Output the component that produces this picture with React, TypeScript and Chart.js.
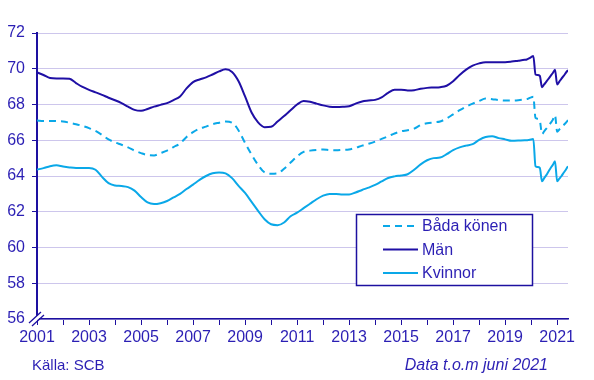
import React, { useEffect, useRef } from "react";
import { Chart, registerables } from "chart.js";

Chart.register(...registerables);

// Periods (quarterly until autumn 2019, then monthly)
const periods = [
  "2001-01", "2001-04", "2001-07", "2001-10",
  "2002-01", "2002-04", "2002-07", "2002-10",
  "2003-01", "2003-04", "2003-07", "2003-10",
  "2004-01", "2004-04", "2004-07", "2004-10",
  "2005-01", "2005-04", "2005-07", "2005-10",
  "2006-01", "2006-04", "2006-07", "2006-10",
  "2007-01", "2007-04", "2007-07", "2007-10",
  "2008-01", "2008-04", "2008-07", "2008-10",
  "2009-01", "2009-04", "2009-07", "2009-10",
  "2010-01", "2010-04", "2010-07", "2010-10",
  "2011-01", "2011-04", "2011-07", "2011-10",
  "2012-01", "2012-04", "2012-07", "2012-10",
  "2013-01", "2013-04", "2013-07", "2013-10",
  "2014-01", "2014-04", "2014-07", "2014-10",
  "2015-01", "2015-04", "2015-07", "2015-10",
  "2016-01", "2016-04", "2016-07", "2016-10",
  "2017-01", "2017-04", "2017-07", "2017-10",
  "2018-01", "2018-04", "2018-07", "2018-10",
  "2019-01", "2019-04", "2019-07", "2019-10",
  "2019-11", "2019-12",
  "2020-01", "2020-02", "2020-03", "2020-04", "2020-05", "2020-06",
  "2020-07", "2020-08", "2020-09", "2020-10", "2020-11", "2020-12",
  "2021-01", "2021-02", "2021-03", "2021-04", "2021-05", "2021-06",
];

const badaKonen = [
  67.1, 67.08, 67.08, 67.07,
  67.05, 66.98, 66.9, 66.8,
  66.68, 66.52, 66.3, 66.05,
  65.88, 65.75, 65.6, 65.42,
  65.28, 65.17, 65.15, 65.28,
  65.42, 65.62, 65.82, 66.18,
  66.45, 66.65, 66.76, 66.9,
  66.98, 67.05, 66.98, 66.55,
  65.85, 65.2, 64.62, 64.2,
  64.13, 64.15, 64.4, 64.75,
  65.1, 65.35, 65.42, 65.46,
  65.48, 65.45, 65.44, 65.46,
  65.48, 65.58, 65.7, 65.8,
  65.92, 66.08, 66.22, 66.38,
  66.5, 66.56, 66.65, 66.85,
  66.95, 67.0, 67.05, 67.22,
  67.45, 67.68, 67.88, 68.05,
  68.2, 68.33, 68.3, 68.25,
  68.22, 68.22, 68.24, 68.28,
  68.3, 68.35,
  68.4, 68.43, 67.25, 67.2, 67.1, 66.35,
  66.5, 66.65, 66.8, 66.97, 67.15, 67.4,
  66.48, 66.6, 66.72, 66.85, 66.98, 67.12,
];

const man = [
  69.8, 69.65, 69.48, 69.46,
  69.46, 69.44, 69.2, 68.98,
  68.82, 68.68, 68.54, 68.38,
  68.24, 68.08, 67.88, 67.7,
  67.65, 67.75, 67.88, 67.98,
  68.08, 68.25, 68.45, 68.9,
  69.25, 69.4, 69.52, 69.68,
  69.85, 69.97, 69.82, 69.3,
  68.45, 67.55, 67.0, 66.73,
  66.75, 67.05, 67.35, 67.68,
  68.0, 68.2, 68.15, 68.05,
  67.95, 67.88, 67.86, 67.87,
  67.9, 68.05, 68.17, 68.22,
  68.26, 68.4, 68.65, 68.82,
  68.82, 68.79, 68.8, 68.88,
  68.93, 68.95, 68.97, 69.05,
  69.3, 69.65, 69.95, 70.17,
  70.3, 70.37, 70.37, 70.37,
  70.37, 70.4, 70.45, 70.5,
  70.52, 70.58,
  70.65, 70.72, 69.68, 69.65, 69.6, 68.97,
  69.12, 69.28, 69.44, 69.6, 69.76, 69.95,
  69.12, 69.28, 69.45, 69.6, 69.77, 69.93,
];

const kvinnor = [
  64.36, 64.44, 64.55, 64.6,
  64.53, 64.48, 64.45, 64.45,
  64.45, 64.35, 63.95, 63.6,
  63.47, 63.44, 63.38, 63.18,
  62.82, 62.52, 62.43, 62.48,
  62.6, 62.8, 63.0, 63.27,
  63.52, 63.78, 64.0, 64.15,
  64.2, 64.15, 63.88, 63.45,
  63.05, 62.55, 62.05, 61.58,
  61.3, 61.25, 61.4, 61.75,
  61.95, 62.2, 62.45, 62.7,
  62.9, 63.0, 63.0, 62.97,
  62.97, 63.08, 63.22, 63.35,
  63.5, 63.7, 63.89, 63.98,
  64.03, 64.1, 64.35, 64.65,
  64.88, 65.0, 65.03, 65.22,
  65.45, 65.6, 65.7, 65.78,
  66.02, 66.18, 66.22, 66.12,
  66.05, 65.97, 65.98, 66.0,
  66.0, 66.02,
  66.04, 66.07, 64.55, 64.5, 64.45, 63.7,
  63.88, 64.05, 64.25, 64.45, 64.62, 64.82,
  63.7, 63.85, 64.0, 64.18, 64.35, 64.55,
];

const yTicks = [56, 58, 60, 62, 64, 66, 68, 70, 72];
const xTickYears = [
  2001, 2002, 2003, 2004, 2005, 2006, 2007, 2008, 2009, 2010, 2011,
  2012, 2013, 2014, 2015, 2016, 2017, 2018, 2019, 2020, 2021,
];
const xLabelYears = [2001, 2003, 2005, 2007, 2009, 2011, 2013, 2015, 2017, 2019, 2021];
const seriesNames = ["Båda könen", "Män", "Kvinnor"];
const sourceText = "Källa: SCB";
const noteText = "Data t.o.m juni 2021";

const toYear = (p: string) => {
  const [y, m] = p.split("-").map(Number);
  return y + (m - 1) / 12;
};

const TEXT = "#2b1fb4";
const AXIS = "#1d10a0";
const GRID = "#cdc6ec";
const DARK = "#1f0fa5";
const LIGHT = "#0aa8e8";
const FONT = "'Liberation Sans', Arial, sans-serif";

const decorPlugin = {
  id: "decor",
  afterDraw(chart: any) {
    const ctx = chart.ctx as CanvasRenderingContext2D;
    const ca = chart.chartArea;
    ctx.save();
    // axis break symbol
    const bx = ca.left;
    const by = ca.bottom;
    ctx.fillStyle = "#ffffff";
    ctx.beginPath();
    ctx.moveTo(bx - 8, by + 4);
    ctx.lineTo(bx + 4, by - 7);
    ctx.lineTo(bx + 7, by - 5);
    ctx.lineTo(bx - 5, by + 6);
    ctx.closePath();
    ctx.fill();
    ctx.strokeStyle = AXIS;
    ctx.lineWidth = 1.3;
    ctx.beginPath();
    ctx.moveTo(bx - 8, by + 4);
    ctx.lineTo(bx + 4, by - 7);
    ctx.moveTo(bx - 5, by + 7);
    ctx.lineTo(bx + 7, by - 4);
    ctx.stroke();

    // legend
    const lx = 356.5, ly = 214.5, lw = 176, lh = 71;
    ctx.fillStyle = "#ffffff";
    ctx.fillRect(lx, ly, lw, lh);
    ctx.strokeStyle = AXIS;
    ctx.lineWidth = 1.5;
    ctx.strokeRect(lx, ly, lw, lh);
    const rows = [226, 249.5, 273];
    const colors = [LIGHT, DARK, LIGHT];
    const dashes = [[7, 5], [], []];
    seriesNames.forEach((name, i) => {
      ctx.strokeStyle = colors[i];
      ctx.lineWidth = 2;
      ctx.setLineDash(dashes[i]);
      ctx.beginPath();
      ctx.moveTo(383, rows[i]);
      ctx.lineTo(418, rows[i]);
      ctx.stroke();
      ctx.setLineDash([]);
      ctx.fillStyle = TEXT;
      ctx.font = `16px ${FONT}`;
      ctx.textBaseline = "middle";
      ctx.textAlign = "left";
      ctx.fillText(name, 422, rows[i] + 1);
    });

    // footer
    ctx.font = `15px ${FONT}`;
    ctx.fillStyle = TEXT;
    ctx.textBaseline = "middle";
    ctx.textAlign = "left";
    ctx.fillText(sourceText, 32, 366);
    ctx.font = `italic 16px ${FONT}`;
    ctx.textAlign = "right";
    ctx.fillText(noteText, 548, 366);
    ctx.restore();
  },
};

export default function App() {
  const ref = useRef<HTMLCanvasElement | null>(null);
  useEffect(() => {
    if (!ref.current) return;
    const xs = periods.map(toYear);
    const mk = (vals: number[]) => vals.map((v, i) => ({ x: xs[i], y: v }));
    const chart = new Chart(ref.current, {
      type: "line",
      data: {
        datasets: [
          {
            label: seriesNames[0],
            data: mk(badaKonen),
            borderColor: LIGHT,
            borderWidth: 2,
            borderDash: [7, 5],
            pointRadius: 0,
            cubicInterpolationMode: "monotone",
            fill: false,
          },
          {
            label: seriesNames[1],
            data: mk(man),
            borderColor: DARK,
            borderWidth: 2,
            pointRadius: 0,
            cubicInterpolationMode: "monotone",
            fill: false,
          },
          {
            label: seriesNames[2],
            data: mk(kvinnor),
            borderColor: LIGHT,
            borderWidth: 2,
            pointRadius: 0,
            cubicInterpolationMode: "monotone",
            fill: false,
          },
        ],
      },
      options: {
        responsive: false,
        animation: false,
        devicePixelRatio: 1,
        layout: { padding: { top: 33, right: 26, left: 0, bottom: 0 } },
        plugins: { legend: { display: false }, tooltip: { enabled: false } },
        scales: {
          x: {
            type: "linear",
            min: 2001,
            max: xs[xs.length - 1],
            afterBuildTicks: (s: any) => {
              s.ticks = xTickYears.map((v) => ({ value: v }));
            },
            afterFit: (s: any) => {
              s.height = 61;
            },
            grid: {
              display: true,
              drawOnChartArea: false,
              drawTicks: true,
              tickLength: 6,
              color: AXIS,
              lineWidth: 1,
            },
            border: { display: true, color: AXIS, width: 1.5 },
            ticks: {
              autoSkip: false,
              maxRotation: 0,
              color: TEXT,
              padding: 3,
              font: { family: FONT, size: 16 },
              callback: (v: any) => (xLabelYears.includes(Number(v)) ? String(v) : ""),
            },
          },
          y: {
            min: 56,
            max: 72,
            afterBuildTicks: (s: any) => {
              s.ticks = yTicks.map((v) => ({ value: v }));
            },
            afterFit: (s: any) => {
              s.width = 37;
            },
            grid: { color: GRID, tickColor: AXIS, tickLength: 5, lineWidth: 1 },
            border: { display: true, color: AXIS, width: 2 },
            ticks: {
              color: TEXT,
              padding: 7,
              font: { family: FONT, size: 16 },
            },
          },
        },
      },
      plugins: [decorPlugin],
    } as any);
    return () => chart.destroy();
  }, []);
  return (
    <div style={{ position: "absolute", left: 0, top: 0, width: 594, height: 380, background: "#fff" }}>
      <canvas ref={ref} width={594} height={380} style={{ width: 594, height: 380 }} />
    </div>
  );
}
